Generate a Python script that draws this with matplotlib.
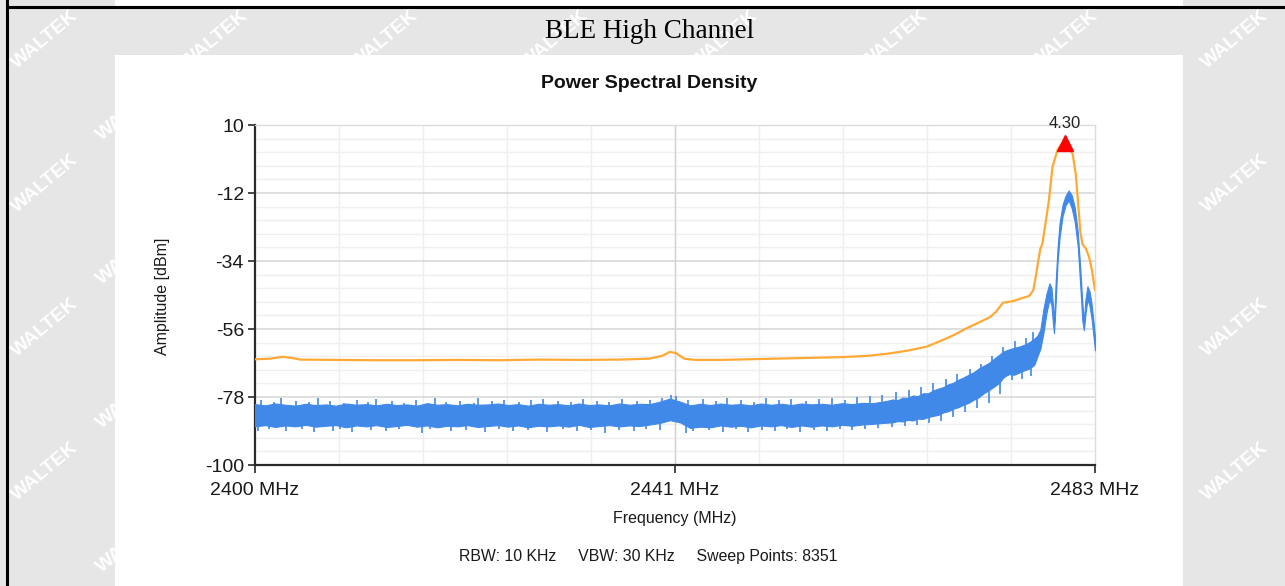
import matplotlib
matplotlib.use("Agg")
import matplotlib.pyplot as plt
from matplotlib.patches import Rectangle
from matplotlib.lines import Line2D

# Peak-hold trace (orange): MHz, dBm
max_freq = [2400, 2401.5, 2402.7, 2403.5, 2404.5, 2408, 2412, 2416, 2420, 2424,
            2428, 2432, 2436, 2439, 2440.3, 2441.0, 2441.6, 2442.4, 2443.5, 2446,
            2450, 2454, 2458, 2460.5, 2462.5, 2464.5, 2466.4, 2467.5, 2468.7, 2469.5,
            2470.4, 2471.2, 2471.9, 2472.6, 2473.2, 2473.9, 2474.9, 2475.9, 2476.5, 2476.9,
            2477.2, 2477.4, 2477.6, 2477.8, 2478.1, 2478.45, 2478.8, 2479.3, 2479.7, 2480.0,
            2480.4, 2480.8, 2481.1, 2481.3, 2481.55, 2481.75, 2482.1, 2482.4, 2482.7, 2483.0]
max_dbm = [-65.8, -65.6, -65.0, -65.3, -65.9, -66.0, -66.1, -66.1, -66.0, -66.1,
           -65.9, -66.0, -65.9, -65.6, -64.6, -63.4, -63.8, -65.6, -66.0, -66.0,
           -65.7, -65.4, -65.1, -64.7, -64.0, -63.0, -61.7, -60.2, -58.5, -57.2,
           -55.6, -54.4, -53.3, -52.2, -50.5, -47.5, -47.0, -45.9, -45.3, -43.5,
           -38.0, -33.8, -30.0, -28.5, -22.0, -14.3, -3.5, 1.9, 3.8, 4.3,
           3.2, 0.5, -6.0, -14.0, -24.5, -28.5, -30.0, -32.5, -37.0, -43.4]

# Clear-write trace (blue): dense core of the noise band, upper / lower edge
psd_freq = [2400, 2401, 2402, 2403, 2404, 2405, 2406, 2407, 2408, 2409,
            2410, 2411, 2412, 2413, 2414, 2415, 2416, 2417, 2418, 2419,
            2420, 2421, 2422, 2423, 2424, 2425, 2426, 2427, 2428, 2429,
            2430, 2431, 2432, 2433, 2434, 2435, 2436, 2437, 2438, 2439,
            2440, 2441, 2442, 2443, 2444, 2445, 2446, 2447, 2448, 2449,
            2450, 2451, 2452, 2453, 2454, 2455, 2456, 2457, 2458, 2459,
            2460, 2461, 2462,
            2462.5, 2463, 2463.5, 2464, 2464.5, 2465, 2465.5, 2466, 2466.5, 2467,
            2467.5, 2468, 2468.5, 2469, 2469.5, 2470, 2470.5, 2471, 2471.5, 2472,
            2472.5, 2473, 2473.5, 2474, 2474.5, 2475, 2475.5, 2476, 2476.5, 2477,
            2477.3, 2477.6, 2477.9, 2478.2, 2478.5, 2478.7, 2478.85, 2478.95, 2479.1, 2479.3,
            2479.5, 2479.8, 2480.1, 2480.4, 2480.7, 2481.0, 2481.3, 2481.55, 2481.75, 2481.9,
            2482.05, 2482.25, 2482.45, 2482.65, 2482.85, 2483.0]
psd_hi = [-80.3, -80.7, -80.1, -80.5, -80.8, -80.2, -80.6, -80.4, -80.8, -80.1,
          -80.5, -80.3, -80.7, -80.2, -80.6, -80.4, -80.8, -80.0, -80.5, -80.3,
          -80.7, -80.2, -80.5, -80.4, -80.1, -80.6, -80.3, -80.8, -80.2, -80.5,
          -80.3, -80.7, -80.1, -80.6, -80.4, -80.7, -80.1, -80.5, -80.2, -80.3,
          -79.5, -78.5, -79.5, -80.7, -80.2, -80.6, -80.1, -80.5, -80.3, -80.7,
          -80.1, -80.5, -80.2, -80.6, -80.1, -80.4, -80.2, -80.5, -80.0, -80.3,
          -79.9, -80.0, -79.5,
          -79.2, -78.8, -79.0, -78.2, -78.3, -77.5, -77.7, -76.8, -76.8, -75.9,
          -75.3, -74.8, -73.9, -73.4, -72.4, -71.7, -70.8, -70.0, -68.8, -67.9,
          -67.0, -65.7, -64.4, -63.2, -62.6, -62.1, -61.7, -61.1, -60.3, -59.1,
          -58.2, -56.2, -49.6, -44.6, -41.2, -42.7, -48.6, -54.2, -41.6, -29.7,
          -21.7, -15.7, -12.8, -11.2, -12.7, -16.7, -24.6, -36.6, -47.6, -53.7,
          -46.6, -42.2, -43.7, -47.6, -53.6, -58.6]
psd_lo = [-87.5, -87.1, -87.7, -87.2, -87.5, -87.0, -87.6, -87.3, -87.1, -87.8,
          -87.2, -87.5, -87.1, -87.7, -87.4, -87.0, -87.6, -87.2, -87.8, -87.3,
          -87.5, -87.1, -87.7, -87.4, -87.1, -87.6, -87.2, -87.8, -87.3, -87.5,
          -87.2, -87.6, -87.0, -87.7, -87.4, -87.1, -87.5, -87.2, -87.4, -86.9,
          -86.4, -85.5, -86.2, -88.0, -87.6, -87.8, -87.2, -87.6, -87.3, -87.8,
          -87.2, -87.5, -87.1, -87.7, -87.2, -87.6, -87.2, -87.5, -87.0, -87.3,
          -86.9, -86.7, -86.4,
          -86.3, -86.2, -85.8, -85.9, -85.4, -85.6, -85.0, -85.1, -84.5, -84.1,
          -83.8, -83.0, -82.6, -81.8, -81.3, -80.5, -79.9, -78.9, -78.1, -76.8,
          -75.8, -74.7, -73.5, -71.5, -70.6, -70.8, -70.1, -69.4, -68.8, -67.6,
          -64.9, -62.4, -57.4, -50.9, -46.4, -48.4, -54.4, -57.4, -48.4, -34.4,
          -26.4, -19.4, -15.9, -14.4, -16.9, -21.4, -29.4, -42.4, -53.4, -56.4,
          -51.4, -46.4, -48.4, -52.4, -58.4, -62.9]

# single noise spikes that stick out of the band
up_freq = [2400.6, 2401.9, 2402.6, 2404.1, 2405.3, 2406.2, 2407.4, 2408.8, 2410.1, 2411.2,
           2412.0, 2413.5, 2414.7, 2415.9, 2417.8, 2418.9, 2420.3, 2421.6, 2422.0, 2423.4,
           2424.6, 2426.1, 2427.3, 2428.5, 2429.9, 2431.2, 2432.4, 2433.8, 2435.0, 2436.3,
           2437.7, 2439.0, 2440.2, 2441.1, 2441.6, 2442.8, 2444.3, 2445.6, 2446.6, 2448.0,
           2449.3, 2450.5, 2451.8, 2453.0, 2454.4, 2455.7, 2457.0, 2458.3, 2459.5, 2460.8,
           2462.0, 2463.3, 2464.6, 2465.8, 2467.0, 2468.3, 2469.4, 2470.6, 2471.7, 2472.8,
           2473.9, 2475.1, 2476.2, 2476.9]
up_dbm = [-79.1, -79.5, -78.3, -79.2, -79.7, -78.4, -79.3, -79.8, -79.0, -79.6,
          -78.7, -79.4, -79.8, -79.1, -78.3, -79.5, -79.2, -79.8, -78.4, -79.3,
          -78.9, -79.6, -79.1, -78.5, -79.4, -79.7, -78.8, -79.2, -79.6, -78.6,
          -79.3, -79.0, -78.4, -77.3, -77.7, -78.9, -78.6, -79.4, -78.2, -79.1,
          -79.5, -78.3, -79.0, -78.5, -79.2, -78.7, -78.2, -78.9, -78.0, -77.7,
          -77.2, -76.3, -75.7, -74.8, -73.5, -72.3, -70.7, -69.1, -67.2, -64.8,
          -61.7, -59.9, -58.8, -56.9]
down_freq = [2400.3, 2401.4, 2403.1, 2404.6, 2405.8, 2407.7, 2408.4, 2409.6, 2411.5, 2412.9,
             2414.2, 2416.5, 2417.3, 2419.4, 2420.8, 2422.7, 2424.1, 2425.5, 2427.0, 2428.9,
             2430.4, 2431.8, 2433.2, 2434.6, 2436.0, 2437.4, 2438.6, 2440.0, 2442.6, 2443.3,
             2444.9, 2446.2, 2447.5, 2448.7, 2450.1, 2451.4, 2452.6, 2453.9, 2455.2, 2456.5,
             2457.8, 2459.0, 2460.3, 2461.6, 2462.9, 2464.2, 2465.4, 2466.6, 2467.8, 2469.0,
             2470.2, 2471.3, 2472.5, 2473.6, 2474.8, 2475.8, 2476.7]
down_dbm = [-89.1, -88.4, -89.0, -88.5, -89.2, -88.9, -88.3, -89.3, -88.6, -88.9,
            -88.4, -89.6, -88.5, -89.1, -88.7, -89.3, -88.5, -89.0, -88.8, -89.4,
            -88.4, -89.1, -88.7, -89.5, -88.6, -89.0, -88.4, -88.8, -89.5, -89.1,
            -88.6, -89.2, -88.5, -89.3, -88.7, -89.1, -88.3, -89.4, -88.8, -89.0,
            -88.2, -88.7, -88.3, -87.9, -87.7, -87.3, -87.0, -86.4, -85.7, -84.4,
            -83.0, -81.7, -79.9, -76.9, -72.6, -72.2, -71.1]

peak_freq = 2480.0
peak_dbm = 4.30

y_ticks = [10, -12, -34, -56, -78, -100]
x_ticks = [2400, 2441.5, 2483]
x_labels = ["2400 MHz", "2441 MHz", "2483 MHz"]

W, H = 1285, 586
fig = plt.figure(figsize=(W / 100, H / 100), dpi=100)
fig.patch.set_facecolor("#e6e6e6")


def fx(x):
    return x / W


def fy(y):
    return 1 - y / H


# watermark behind everything, kept inside the picture
for row in range(8):
    for col in range(8):
        x = 45 + col * 170 + (85 if row % 2 else 0)
        y = 40 + row * 72
        if x > 1245 or y > 550:
            continue
        fig.text(fx(x), fy(y), "WALTEK", color="white", fontsize=14, fontweight="bold",
                 rotation=40, ha="center", va="center", family="Liberation Sans",
                 zorder=-3)

# white chart panel
fig.patches.append(Rectangle((fx(115), fy(586)), fx(1183 - 115), 531 / H,
                             transform=fig.transFigure, facecolor="white",
                             edgecolor="none", zorder=-2))
fig.patches.append(Rectangle((fx(115), fy(6)), fx(1183 - 115), 6 / H,
                             transform=fig.transFigure, facecolor="white",
                             edgecolor="none", zorder=-2))

# table frame lines
fig.lines.append(Line2D([fx(7), 1], [fy(7), fy(7)], transform=fig.transFigure,
                        color="black", lw=2.2, zorder=5))
fig.lines.append(Line2D([fx(7), fx(7)], [0, 1], transform=fig.transFigure,
                        color="black", lw=2.2, zorder=5))

fig.text(fx(650), fy(31), "BLE High Channel", family="Liberation Serif",
         fontsize=19.5, ha="center", va="center", color="black")

ax = fig.add_axes([fx(255), fy(465), fx(840), 340 / H])
ax.set_facecolor("white")

blue = "#4189e8"
ax.fill_between(psd_freq, psd_lo, psd_hi, color=blue, lw=0.8, zorder=3)
ax.vlines(up_freq, [v - 4.5 for v in up_dbm], up_dbm, color=blue, lw=1.2, zorder=3)
ax.vlines(down_freq, down_dbm, [v + 4.5 for v in down_dbm], color=blue, lw=1.2, zorder=3)
ax.plot(max_freq, max_dbm, color="#ffa935", lw=1.6, zorder=4)
ax.plot([peak_freq], [peak_dbm], marker="^", color="red", markersize=11,
        linestyle="none", zorder=5, clip_on=False)
ax.text(peak_freq, peak_dbm + 3.6, f"{peak_dbm:.2f}", ha="center", va="bottom",
        fontsize=12, color="#222222", family="Liberation Sans")

ax.set_xlim(2400, 2483)
ax.set_ylim(-100, 10)

# grid: minor lines first, major lines on top
for k in range(1, 10):
    ax.axvline(2400 + 8.3 * k, color="#efefef", lw=1, zorder=1)
ax.axvline(2441.5, color="#d2d2d2", lw=1, zorder=1.5)
for v in y_ticks[:-1]:
    for j in range(1, 5):
        ax.axhline(v - 4.4 * j, color="#efefef", lw=1, zorder=1)
for v in y_ticks[1:-1]:
    ax.axhline(v, color="#d6d6d6", lw=1.1, zorder=1.5)

for side in ("top", "right"):
    ax.spines[side].set_color("#dcdcdc")
    ax.spines[side].set_linewidth(1)
for side in ("left", "bottom"):
    ax.spines[side].set_color("#2a2a2a")
    ax.spines[side].set_linewidth(1.6)

ax.set_yticks(y_ticks)
ax.set_yticklabels([str(v) for v in y_ticks])
ax.set_xticks(x_ticks)
ax.set_xticklabels(x_labels)
ax.tick_params(axis="y", length=5, width=1.2, color="#2a2a2a", pad=3,
               labelsize=14, labelcolor="#1a1a1a")
ax.tick_params(axis="x", length=6, width=1.2, color="#2a2a2a", pad=6,
               labelsize=14, labelcolor="#1a1a1a")
for lab in ax.get_xticklabels() + ax.get_yticklabels():
    lab.set_family("Liberation Sans")

fig.text(fx(649), fy(83), "Power Spectral Density", family="Liberation Sans",
         fontsize=14, fontweight="bold", ha="center", va="center", color="#111111")
fig.text(fx(163), fy(296), "Amplitude [dBm]", family="Liberation Sans",
         fontsize=11.5, rotation=90, ha="center", va="center", color="#1a1a1a")
fig.text(fx(675), fy(519), "Frequency (MHz)", family="Liberation Sans",
         fontsize=11.5, ha="center", va="center", color="#1a1a1a")
fig.text(fx(648), fy(557), "RBW: 10 KHz     VBW: 30 KHz     Sweep Points: 8351",
         family="Liberation Sans", fontsize=11.4, ha="center", va="center",
         color="#1a1a1a")

fig.savefig("out.png", dpi=100, facecolor=fig.get_facecolor())
